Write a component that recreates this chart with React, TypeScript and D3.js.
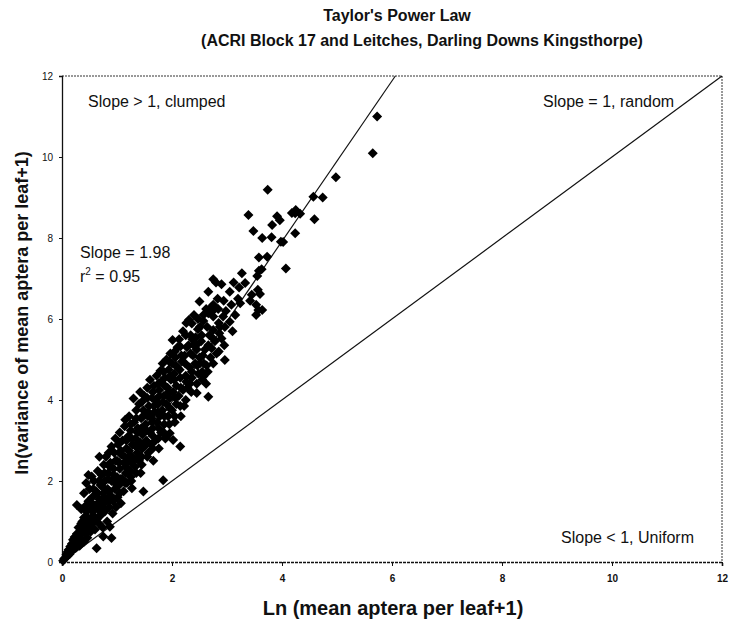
import * as d3 from "d3";
import React, { useEffect, useRef } from "react";

// Ln(mean+1) vs ln(variance+1)
const nearOrigin: [number, number][] = [
  [0.02, 0.03], [0.04, 0.08], [0.06, 0.1], [0.08, 0.18], [0.1, 0.15], [0.1, 0.25],
  [0.12, 0.3], [0.14, 0.2], [0.15, 0.38], [0.17, 0.28], [0.18, 0.45], [0.2, 0.3],
  [0.2, 0.55], [0.22, 0.4], [0.23, 0.62], [0.25, 0.35], [0.25, 0.5], [0.27, 0.7],
  [0.28, 0.45], [0.3, 0.6], [0.3, 0.85], [0.27, 1.41], [0.32, 0.4], [0.33, 0.75],
  [0.35, 0.95], [0.36, 0.55], [0.38, 0.8], [0.4, 1.1], [0.4, 0.5], [0.42, 0.7],
  [0.43, 0.95], [0.45, 1.25], [0.46, 0.6], [0.48, 0.85], [0.48, 1.5], [0.5, 1.05],
  [0.5, 1.8], [0.52, 0.75], [0.53, 1.3], [0.55, 0.95], [0.55, 1.6], [0.57, 1.15],
  [0.58, 2.0], [0.6, 0.8], [0.6, 1.4], [0.48, 2.15], [0.54, 2.11], [0.4, 1.7],
  [0.35, 1.3], [0.44, 1.95],
];

const lowBand: [number, number][] = [
  [0.62, 1.75], [0.63, 1.05], [0.63, 0.34], [0.65, 2.25], [0.66, 1.3], [0.67, 0.95],
  [0.68, 1.55], [0.7, 1.9], [0.7, 1.15], [0.72, 2.15], [0.72, 1.45], [0.74, 0.85],
  [0.75, 1.7], [0.75, 0.63], [0.76, 2.4], [0.78, 1.25], [0.78, 2.0], [0.8, 1.5],
  [0.8, 2.6], [0.82, 1.0], [0.83, 1.8], [0.84, 2.2], [0.86, 1.35], [0.87, 0.87],
  [0.88, 2.45], [0.88, 1.65], [0.9, 0.59], [0.9, 2.0], [0.9, 2.85], [0.68, 2.6],
  [0.92, 1.2], [0.93, 1.5], [0.94, 2.3], [0.95, 2.7], [0.96, 1.8], [0.97, 3.05],
  [0.98, 1.35], [1.0, 2.1], [1.0, 2.5], [1.01, 1.6], [1.02, 2.9], [1.04, 1.9],
  [1.05, 2.3], [1.05, 3.2], [1.07, 1.45], [1.08, 2.65], [1.1, 2.05], [1.1, 3.0],
  [1.12, 1.75], [1.13, 2.45], [1.14, 3.35], [1.15, 3.51], [1.16, 2.2], [1.17, 2.8],
  [1.18, 1.95], [1.2, 2.5], [1.2, 3.1],
];

const midBand: [number, number][] = [
  [1.22, 2.75], [1.22, 3.6], [1.24, 2.25], [1.25, 3.25], [1.26, 2.0], [1.27, 1.82],
  [1.28, 2.9], [1.3, 4.04], [1.3, 2.55], [1.31, 3.45], [1.33, 2.35], [1.34, 3.05],
  [1.35, 3.75], [1.37, 2.7], [1.38, 3.3], [1.4, 2.5], [1.4, 3.9], [1.42, 4.2],
  [1.42, 2.95], [1.44, 3.55], [1.45, 2.6], [1.46, 3.15], [1.48, 1.74], [1.48, 3.75],
  [1.5, 2.85], [1.5, 4.1], [1.43, 2.2], [1.52, 3.4], [1.53, 3.0], [1.55, 4.3],
  [1.56, 3.6], [1.57, 2.7], [1.58, 3.85], [1.6, 3.2], [1.6, 4.5], [1.62, 2.9],
  [1.63, 3.55], [1.64, 4.05], [1.65, 3.3], [1.66, 2.5], [1.67, 4.35], [1.68, 3.7],
  [1.7, 3.0], [1.7, 4.0], [1.72, 4.6], [1.73, 3.45], [1.75, 3.9], [1.76, 2.8],
  [1.77, 4.25], [1.78, 3.6], [1.79, 4.72], [1.8, 3.2], [1.8, 4.45], [1.82, 3.75],
  [1.83, 4.9], [1.84, 2.02], [1.85, 4.1], [1.86, 3.4], [1.87, 4.55], [1.88, 3.05],
  [1.9, 3.09], [1.9, 3.9], [1.9, 5.0], [1.92, 4.3], [1.93, 3.6], [1.94, 4.75],
  [1.96, 3.18], [1.96, 4.05], [1.97, 5.15], [1.98, 4.5], [2.0, 3.75], [2.0, 4.9],
  [2.01, 5.48], [2.02, 3.01], [2.02, 4.2], [2.04, 4.65], [2.05, 3.45], [2.06, 5.05],
  [2.08, 4.35], [2.08, 3.9], [2.1, 4.8], [2.1, 5.3],
];

const upperBand: [number, number][] = [
  [2.12, 4.1], [2.13, 5.5], [2.15, 2.85], [2.15, 4.55], [2.15, 5.32], [2.16, 3.6],
  [2.18, 4.95], [2.2, 4.25], [2.2, 5.7], [2.22, 3.85], [2.23, 5.1], [2.25, 4.6],
  [2.26, 5.9], [2.28, 4.3], [2.3, 5.35], [2.31, 5.98], [2.32, 4.8], [2.33, 4.41],
  [2.34, 5.6], [2.36, 5.89], [2.36, 4.55], [2.38, 5.1], [2.39, 5.36], [2.4, 6.1],
  [2.42, 4.9], [2.43, 5.55], [2.45, 4.17], [2.45, 5.25], [2.47, 6.0], [2.48, 4.65],
  [2.5, 5.05], [2.5, 6.43], [2.51, 5.81], [2.51, 4.91], [2.53, 5.45], [2.55, 4.7],
  [2.57, 4.58], [2.57, 5.95], [2.6, 5.25], [2.62, 6.25], [2.63, 4.85], [2.66, 6.14],
  [2.66, 6.67], [2.66, 4.08], [2.68, 5.6], [2.7, 5.05], [2.72, 5.28], [2.72, 6.3],
  [2.75, 5.73], [2.75, 6.35], [2.75, 6.06], [2.75, 6.98], [2.78, 5.45], [2.8, 6.9],
  [2.81, 5.15], [2.83, 6.5], [2.85, 5.9], [2.87, 5.81], [2.9, 6.86], [2.9, 5.52],
  [2.93, 6.06], [2.96, 4.99], [2.98, 6.2], [2.62, 4.4], [2.58, 4.9],
];

// extra readings from the solid-black core of the cloud
const denseCore: [number, number][] = [
  [0.35, 0.7], [0.37, 1.0], [0.45, 0.8], [0.46, 1.1], [0.44, 1.4], [0.55, 1.0],
  [0.56, 1.25], [0.54, 1.45], [0.57, 1.8], [0.65, 1.1], [0.66, 1.45], [0.64, 1.7],
  [0.67, 2.0], [0.75, 1.35], [0.76, 1.6], [0.74, 1.85], [0.77, 2.2], [0.85, 1.5],
  [0.86, 1.75], [0.84, 2.05], [0.87, 2.35], [0.85, 2.7], [0.95, 1.55], [0.96, 1.95],
  [0.94, 2.15], [0.97, 2.5], [1.05, 1.7], [1.06, 2.05], [1.04, 2.45], [1.07, 2.75],
  [1.15, 1.95], [1.16, 2.35], [1.14, 2.6], [1.17, 3.0], [1.25, 2.1], [1.26, 2.45],
  [1.24, 2.65], [1.27, 3.05], [1.25, 3.4], [1.35, 2.2], [1.36, 2.55], [1.34, 2.85],
  [1.37, 3.2], [1.35, 3.55], [1.45, 2.4], [1.46, 2.8], [1.44, 3.3], [1.47, 3.6],
  [1.45, 3.95], [1.55, 2.6], [1.56, 2.95], [1.54, 3.25], [1.57, 3.7], [1.55, 4.05],
  [1.65, 2.8], [1.66, 3.1], [1.64, 3.45], [1.67, 3.85], [1.65, 4.2], [1.75, 3.05],
  [1.76, 3.3], [1.74, 3.7], [1.77, 4.1], [1.75, 4.4], [1.85, 3.2], [1.86, 3.6],
  [1.84, 3.95], [1.87, 4.35], [1.85, 4.7], [1.95, 3.4], [1.96, 3.8], [1.94, 4.2],
  [1.97, 4.6], [1.95, 4.95], [2.05, 3.6], [2.06, 4.05], [2.04, 4.5], [2.07, 4.85],
  [2.05, 5.2], [2.15, 3.85], [2.16, 4.3], [2.14, 4.75], [2.17, 5.1], [2.25, 4.0],
  [2.26, 4.45], [2.24, 4.9], [2.27, 5.3], [2.25, 5.6], [2.35, 4.2], [2.36, 4.7],
  [2.34, 5.15], [2.37, 5.5], [2.45, 4.4], [2.46, 4.85], [2.44, 5.35], [2.47, 5.75],
  [2.55, 4.5], [2.56, 5.1], [2.54, 5.6], [2.57, 6.1], [2.65, 4.7], [2.66, 5.35],
  [2.64, 5.8], [2.75, 4.9], [2.76, 5.5], [2.74, 6.2], [2.85, 5.2], [2.86, 5.65],
  [2.84, 6.25], [2.95, 5.35], [2.96, 5.8], [2.94, 6.45],
];

const sparseTail: [number, number][] = [
  [3.05, 6.67], [3.05, 5.93], [3.08, 6.35], [3.1, 5.7], [3.15, 6.1], [3.22, 6.78],
  [3.24, 6.39], [3.27, 7.13], [3.33, 6.89], [3.42, 6.45], [3.53, 6.1], [3.53, 6.35],
  [3.55, 7.06], [3.56, 6.72], [3.57, 6.22], [3.58, 7.19], [3.58, 7.52], [3.6, 6.62],
  [3.63, 7.23], [3.64, 6.22], [3.73, 7.54], [3.74, 9.19], [3.39, 8.57], [3.48, 8.17],
  [3.64, 8.0], [3.81, 8.02], [3.82, 8.32], [3.91, 8.54], [3.96, 8.44], [3.98, 7.91],
  [4.02, 7.9], [4.07, 7.25], [4.18, 8.62], [4.24, 8.61], [4.25, 8.69], [4.24, 8.12],
  [4.33, 8.6], [4.57, 9.02], [4.74, 9.0], [4.59, 8.46], [4.98, 9.5], [5.65, 10.09],
  [5.73, 11.0], [3.2, 6.5], [3.12, 6.9], [3.45, 6.6],
];

const fitSlope = 1.98;
const axisTicks = [0, 2, 4, 6, 8, 10, 12];

const W = 730;
const H = 622;

const App: React.FC = () => {
  const svgRef = useRef<SVGSVGElement>(null);

  useEffect(() => {
    if (!svgRef.current) return;
    const margin = { top: 76, right: 8, bottom: 60, left: 62 };
    const plotW = W - margin.left - margin.right;
    const plotH = H - margin.top - margin.bottom;

    const svg = d3.select(svgRef.current);
    svg.selectAll("*").remove();
    svg.attr("width", W).attr("height", H).style("font-family", "'Liberation Sans', Arial, sans-serif");

    const g = svg.append("g").attr("transform", `translate(${margin.left},${margin.top})`);

    const x = d3.scaleLinear().domain([0, 12]).range([0, plotW]);
    const y = d3.scaleLinear().domain([0, 12]).range([plotH, 0]);

    // dotted frame (top & right)
    g.append("path")
      .attr("d", `M0,0H${plotW}V${plotH}`)
      .attr("fill", "none")
      .attr("stroke", "#333")
      .attr("stroke-width", 1)
      .attr("stroke-dasharray", "2,1");

    // x axis
    const xAxis = g.append("g")
      .attr("transform", `translate(0,${plotH})`)
      .call(d3.axisBottom(x).tickValues(axisTicks).tickSize(4).tickFormat(d3.format("d")));
    xAxis.select(".domain").attr("stroke", "#111").attr("stroke-width", 1.6).attr("stroke-dasharray", "3,1");
    xAxis.selectAll(".tick line").attr("stroke", "#111");
    xAxis.selectAll(".tick text")
      .attr("dy", "1.3em")
      .style("font-size", "10px")
      .style("font-weight", "bold")
      .attr("fill", "#111");

    // y axis
    const yAxis = g.append("g")
      .call(d3.axisLeft(y).tickValues(axisTicks).tickSize(3).tickFormat(d3.format("d")));
    yAxis.select(".domain").attr("stroke", "#111").attr("stroke-width", 1.3);
    yAxis.selectAll(".tick line").attr("stroke", "#111");
    yAxis.selectAll(".tick text")
      .attr("x", -9)
      .style("font-size", "10px")
      .attr("fill", "#111");

    // reference lines
    const line = d3.line<[number, number]>().x((d) => x(d[0])).y((d) => y(d[1]));
    g.append("path")
      .attr("d", line([[0, 0], [12, 12]]))
      .attr("fill", "none")
      .attr("stroke", "#111")
      .attr("stroke-width", 1.2);
    g.append("path")
      .attr("d", line([[0, 0], [12 / fitSlope, 12]]))
      .attr("fill", "none")
      .attr("stroke", "#111")
      .attr("stroke-width", 1.2);

    // points
    const allPoints = [...nearOrigin, ...lowBand, ...midBand, ...upperBand, ...denseCore, ...sparseTail];
    g.append("g")
      .selectAll("path")
      .data(allPoints)
      .join("path")
      .attr("transform", (d) => `translate(${x(d[0])},${y(d[1])})`)
      .attr("d", "M0,-5L5,0L0,5L-5,0Z")
      .attr("fill", "#000");

    // annotations
    const note = (tx: number, ty: number, text: string) =>
      svg.append("text")
        .attr("x", tx)
        .attr("y", ty)
        .style("font-size", "16px")
        .attr("fill", "#111")
        .text(text);
    note(88, 107, "Slope > 1, clumped");
    note(543, 107, "Slope = 1, random");
    note(561, 543, "Slope < 1, Uniform");
    note(80, 258, "Slope = 1.98");
    const r2 = svg.append("text").attr("x", 80).attr("y", 282).style("font-size", "16px").attr("fill", "#111");
    r2.append("tspan").text("r");
    r2.append("tspan").attr("dy", -7).style("font-size", "10px").text("2");
    r2.append("tspan").attr("dy", 7).text(" = 0.95");

    // titles
    svg.append("text")
      .attr("x", 397)
      .attr("y", 21)
      .attr("text-anchor", "middle")
      .style("font-size", "16px")
      .style("font-weight", "bold")
      .attr("fill", "#111")
      .text("Taylor's Power Law");
    svg.append("text")
      .attr("x", 422)
      .attr("y", 46)
      .attr("text-anchor", "middle")
      .style("font-size", "16px")
      .style("font-weight", "bold")
      .attr("fill", "#111")
      .text("(ACRI Block 17 and Leitches, Darling Downs Kingsthorpe)");

    svg.append("text")
      .attr("x", 393)
      .attr("y", 615)
      .attr("text-anchor", "middle")
      .style("font-size", "20px")
      .style("font-weight", "bold")
      .attr("fill", "#111")
      .text("Ln (mean aptera per leaf+1)");
    svg.append("text")
      .attr("transform", `translate(28,${margin.top + plotH / 2 - 6}) rotate(-90)`)
      .attr("text-anchor", "middle")
      .style("font-size", "18px")
      .style("font-weight", "bold")
      .attr("fill", "#111")
      .text("ln(variance of mean aptera per leaf+1)");
  }, []);

  return <svg ref={svgRef} style={{ position: "absolute", left: 0, top: 0, background: "#fff" }} />;
};

export default App;
